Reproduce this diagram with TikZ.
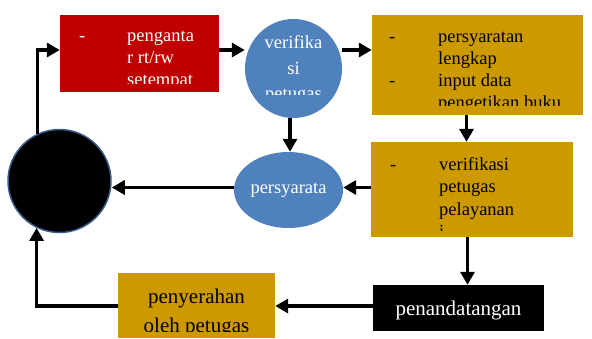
\documentclass[tikz,border=0pt]{standalone}
\usepackage{fontspec}
\setmainfont{Liberation Serif}
\usetikzlibrary{arrows.meta,shapes.geometric}
\definecolor{redbox}{HTML}{C00000}
\definecolor{goldbox}{HTML}{CC9900}
\definecolor{bluell}{HTML}{4F81BD}
\definecolor{circedge}{HTML}{385D8A}
\begin{document}
\begin{tikzpicture}[x=1pt,y=-1pt,
  arr/.style={line width=3.5pt, -{Triangle[length=13pt,width=14pt]}},
  boxshape/.style={rectangle, inner sep=0pt, draw=none},
  ellshape/.style={ellipse, inner sep=0pt, draw=none, fill=bluell},
  txt/.style={inner sep=0pt, anchor=base west, font=\fontsize{18.5}{22}\selectfont},
  ctxt/.style={inner sep=0pt, anchor=base, font=\fontsize{18.5}{22}\selectfont},
  btxt/.style={inner sep=0pt, anchor=base, font=\fontsize{21}{25}\selectfont},
]
\useasboundingbox (0,0) rectangle (592,338);
% shapes
\node[boxshape, fill=redbox, minimum width=159pt, minimum height=77pt] (red) at (139.5,53.5) {};
\node[ellshape, minimum width=97pt, minimum height=99pt] (ell1) at (293.5,68.5) {};
\node[boxshape, fill=goldbox, minimum width=211pt, minimum height=100pt] (gold1) at (477.5,65) {};
\node[boxshape, fill=goldbox, minimum width=202pt, minimum height=95pt] (gold2) at (472,189.5) {};
\node[ellshape, minimum width=109pt, minimum height=76pt] (ell2) at (288.5,190) {};
\node[circle, fill=black, draw=circedge, line width=1.5pt, minimum size=103pt, inner sep=0pt] (circ) at (59.5,181) {};
\node[boxshape, fill=goldbox, minimum width=157pt, minimum height=65pt] (peny) at (196.5,305.5) {};
\node[boxshape, fill=black, minimum width=171pt, minimum height=46pt] (pen) at (458.5,308) {};
% texts
\begin{scope}
\clip (60,15) rectangle (219,83);
\node[txt, white] (redd) at (79,41.7) {-};
\node[txt, white] (red1) at (127,41.7) {penganta};
\node[txt, white] (red2) at (127,63.7) {r rt/rw};
\node[txt, white] (red3) at (127,85.7) {setempat};
\end{scope}
\begin{scope}
\clip (245,19) rectangle (342,94);
\node[ctxt, white] (e11) at (293.5,48.3) {verifika};
\node[ctxt, white] (e12) at (293.5,74) {si};
\node[ctxt, white] (e13) at (293.5,99) {petugas};
\end{scope}
\begin{scope}
\clip (372,15) rectangle (583,105);
\node[txt] (g1d1) at (389,42.5) {-};
\node[txt] (g11) at (438,42.5) {persyaratan};
\node[txt] (g12) at (438,64.5) {lengkap};
\node[txt] (g1d2) at (389,86.5) {-};
\node[txt] (g13) at (438,86.5) {input data};
\node[txt] (g14) at (438,108.5) {pengetikan buku};
\end{scope}
\begin{scope}
\clip (371,142) rectangle (573,230);
\node[txt] (g2d) at (390,170) {-};
\node[txt] (g21) at (439,170) {verifikasi};
\node[txt] (g22) at (439,192.5) {petugas};
\node[txt] (g23) at (439,215) {pelayanan};
\node[txt] (g24) at (439,237.5) {i};
\end{scope}
\node[ctxt, white] (e2t) at (288.5,193.3) {persyarata};
\begin{scope}
\clip (118,273) rectangle (275,331);
\node[btxt] (p1) at (196.5,303.3) {penyerahan};
\node[btxt] (p2) at (196.5,332) {oleh petugas};
\end{scope}
\node[btxt, white] (pt) at (458.5,315) {penandatangan};
% connectors
\coordinate (rowA) at (0,50);
\coordinate (rowB) at (0,187.5);
\coordinate (rowC) at (0,306);
\coordinate (colB) at (290,0);
\coordinate (colC) at (466.5,0);
\coordinate (colD) at (467.5,0);
\draw[arr] (circ.115.6) |- (red.west |- rowA);
\draw[arr] (red.east |- rowA) -- (ell1.west |- rowA);
\draw[arr] (ell1.east |- rowA) -- (gold1.west |- rowA);
\draw[arr] (ell1.south -| colB) -- (ell2.north -| colB);
\draw[arr] (gold1.south -| colC) -- (gold2.north -| colC);
\draw[arr] (gold2.west |- rowB) -- (ell2.east |- rowB);
\draw[arr] (ell2.west |- rowB) -- (circ.east |- rowB);
\draw[arr] (gold2.south -| colD) -- (pen.north -| colD);
\draw[arr] (pen.west |- rowC) -- (peny.east |- rowC);
\draw[arr] (peny.west |- rowC) -| (circ.244.4);
\end{tikzpicture}
\end{document}
